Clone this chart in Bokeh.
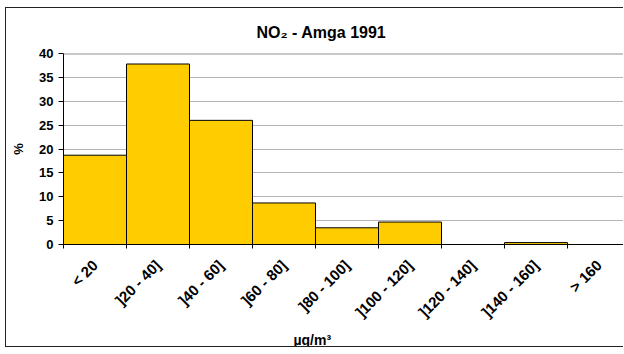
from bokeh.plotting import figure
from bokeh.models import FixedTicker, Span, Range1d, Title
from bokeh.embed import file_html
from bokeh.resources import INLINE
from math import pi

categories = ["< 20", "]20 - 40]", "]40 - 60]", "]60 - 80]", "]80 - 100]",
              "]100 - 120]", "]120 - 140]", "]140 - 160]", "> 160"]
values = [18.7, 37.8, 26.0, 8.7, 3.5, 4.7, 0.0, 0.4, 0.0]
y_ticks = [0, 5, 10, 15, 20, 25, 30, 35, 40]

centers = [i + 0.5 for i in range(len(categories))]
edges = [i for i in range(len(categories) + 1)]

FONT = "Liberation Sans"

p = figure(width=618, height=340, output_backend="svg", toolbar_location=None,
           x_range=Range1d(0, 561 / 63), y_range=Range1d(0, 40),
           min_border_left=57, min_border_right=0, min_border_top=44,
           min_border_bottom=104, title="NO\u2082 - Amga 1991")
p.outline_line_color = None
p.styles = {"margin-left": "5px", "margin-top": "7px",
            "border-left": "1px solid #222", "border-top": "1px solid #222",
            "border-bottom": "1px solid #222"}

p.title.align = "left"
p.title.offset = 193
p.title.standoff = 26
p.title.text_font = FONT
p.title.text_font_size = "16px"
p.title.text_font_style = "bold"
p.title.text_color = "black"

p.vbar(x=centers, top=values, bottom=0, width=1.0, fill_color="#FFCC00",
       line_color="black", line_width=1)

# grid
p.xgrid.visible = False
p.ygrid.ticker = FixedTicker(ticks=y_ticks)
p.ygrid.grid_line_color = "#b4b4b4"
p.add_layout(Span(location=40, dimension="width", line_color="#909090", line_width=2))

# y axis
p.yaxis.ticker = FixedTicker(ticks=y_ticks)
p.yaxis.axis_line_color = "black"
p.yaxis.major_tick_line_color = "black"
p.yaxis.major_tick_out = 5
p.yaxis.major_tick_in = 0
p.yaxis.minor_tick_line_color = None
p.yaxis.major_label_text_font = FONT
p.yaxis.major_label_text_font_size = "13px"
p.yaxis.major_label_text_font_style = "bold"
p.yaxis.major_label_text_color = "black"
p.yaxis.axis_label = "%"
p.yaxis.axis_label_standoff = 10
p.yaxis.axis_label_text_font = FONT
p.yaxis.axis_label_text_font_size = "13px"
p.yaxis.axis_label_text_font_style = "bold"
p.yaxis.axis_label_text_color = "black"

# x axis
p.xaxis.ticker = FixedTicker(ticks=centers, minor_ticks=edges)
p.xaxis.major_label_overrides = {c: lab for c, lab in zip(centers, categories)}
p.xaxis.major_tick_line_color = None
p.xaxis.minor_tick_line_color = "black"
p.xaxis.minor_tick_out = 4
p.xaxis.minor_tick_in = 0
p.xaxis.axis_line_color = "black"
p.xaxis.major_label_orientation = pi / 4
p.xaxis.major_label_standoff = 12
p.xaxis.major_label_text_font = FONT
p.xaxis.major_label_text_font_size = "15px"
p.xaxis.major_label_text_font_style = "bold"
p.xaxis.major_label_text_color = "black"

xlabel = Title(text="µg/m³", align="left", offset=230, standoff=0,
               text_font=FONT, text_font_size="14px", text_font_style="bold",
               text_color="black")
p.add_layout(xlabel, "below")

open("out.html", "w").write(file_html(p, INLINE))
